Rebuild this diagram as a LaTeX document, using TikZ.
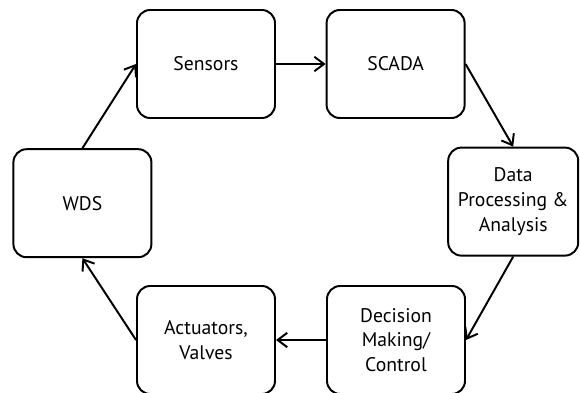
\documentclass[tikz,border=0pt]{standalone}
\usepackage{fontspec}
\setmainfont{PT Sans}
\usepackage{tikz}
\usetikzlibrary{arrows.meta,positioning}

\tikzset{
	block/.style={draw,line width=1.4pt,rounded corners=0.33cm,minimum width=3.45cm,minimum height=2.7cm,align=center,font=\fontsize{14}{17.5}\selectfont},
	flow/.style={line width=1.4pt,-{Straight Barb[length=2.4mm,width=3.6mm,line width=1.4pt]}}
}

\begin{document}
\begin{tikzpicture}
	\useasboundingbox (0,0) rectangle (14.5,9.8);

	% blocks
	\node[block] (sensors) at (5.15,8.2) {Sensors};
	\node[block] (scada) at (9.89,8.2) {SCADA};
	\node[block,minimum width=3.25cm] (data) at (12.83,4.76) {Data\\Processing \&\\Analysis};
	\node[block] (decision) at (9.9,1.3) {Decision\\Making/\\Control};
	\node[block] (actuators) at (5.15,1.3) {Actuators,\\Valves};
	\node[block] (wds) at (2.06,4.72) {WDS};

	% loop
	\draw[flow] (wds.north) -- (sensors.west);
	\draw[flow] (sensors.east) -- (scada.west);
	\draw[flow] (scada.east) -- (data.north);
	\draw[flow] (data.south) -- (decision.east);
	\draw[flow] (decision.west) -- (actuators.east);
	\draw[flow] (actuators.west) -- (wds.south);
\end{tikzpicture}
\end{document}
